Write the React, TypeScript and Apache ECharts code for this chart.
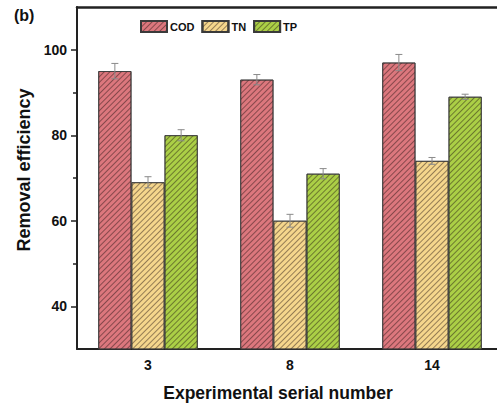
import React, { useEffect, useRef } from "react";
import * as echarts from "echarts";

const categories = ["3", "8", "14"];
const seriesNames = ["COD", "TN", "TP"];
const codValues = [95, 93, 97];
const codErrors = [1.8, 1.2, 1.9];
const tnValues = [69, 60, 74];
const tnErrors = [1.3, 1.5, 0.8];
const tpValues = [80, 71, 89];
const tpErrors = [1.3, 1.2, 0.6];
const yMajorTicks = [40, 60, 80, 100];
const yMinorTicks = [50, 70, 90];

const colors = ["#dc777d", "#f5d68c", "#abcf46"];
const FONT = "Liberation Sans, Arial, sans-serif";

export default function App() {
  const ref = useRef<HTMLDivElement>(null);
  useEffect(() => {
    if (!ref.current) return;
    const chart = echarts.init(ref.current, null, { renderer: "svg" });
    const values = [codValues, tnValues, tpValues];
    const errors = [codErrors, tnErrors, tpErrors];
    const decal = {
      symbol: "rect",
      symbolSize: 1,
      dashArrayX: [1, 0],
      dashArrayY: [1, 2.2],
      rotation: -Math.PI / 4,
      color: "rgba(30,15,15,0.45)",
    };
    const barSeries = seriesNames.map((name, i) => ({
      name,
      type: "bar",
      data: values[i],
      barGap: "0%",
      barCategoryGap: "30%",
      itemStyle: { color: colors[i], borderColor: "#3a3a3a", borderWidth: 0.8, decal },
      z: 2,
    }));
    const errSeries = seriesNames.map((name, i) => ({
      name: name + "_err",
      type: "custom",
      z: 5,
      data: categories.map((_, j) => [j, values[i][j], errors[i][j]]),
      renderItem: (params: any, api: any) => {
        const ci = api.value(0);
        const v = api.value(1);
        const e = api.value(2);
        const band = api.size([1, 0])[0];
        const barW = (band * 0.7) / 3;
        const cx = api.coord([ci, v])[0] + (i - 1) * barW;
        const top = api.coord([ci, v + e])[1];
        const bot = api.coord([ci, v - e])[1];
        const cap = 3.5;
        const style = { stroke: "#8a8a8a", lineWidth: 1 };
        return {
          type: "group",
          children: [
            { type: "line", shape: { x1: cx, y1: top, x2: cx, y2: bot }, style },
            { type: "line", shape: { x1: cx - cap, y1: top, x2: cx + cap, y2: top }, style },
            { type: "line", shape: { x1: cx - cap, y1: bot, x2: cx + cap, y2: bot }, style },
          ],
        };
      },
    }));
    chart.setOption({
      animation: false,
      backgroundColor: "#ffffff",
      textStyle: { fontFamily: FONT },
      title: {
        text: "(b)",
        left: 14,
        top: 7,
        padding: 0,
        textStyle: { fontFamily: FONT, fontSize: 16, fontWeight: "bold", color: "#111" },
      },
      legend: {
        data: seriesNames,
        icon: "rect",
        left: 140,
        top: 20,
        padding: 0,
        itemWidth: 26,
        itemHeight: 11,
        itemGap: 7,
        textStyle: { fontFamily: FONT, fontSize: 11, fontWeight: "bold", color: "#111", padding: [0, 0, 0, -2] },
      },
      grid: { left: 77, right: 2, top: 7, bottom: 59, containLabel: false },
      xAxis: [
        {
          type: "category",
          data: categories,
          position: "bottom",
          axisLine: { lineStyle: { color: "#222", width: 2 } },
          axisTick: { show: false },
          axisLabel: { fontFamily: FONT, fontSize: 14, fontWeight: "bold", color: "#111", margin: 9 },
          name: "Experimental serial number",
          nameLocation: "middle",
          nameGap: 35,
          nameTextStyle: { fontFamily: FONT, fontSize: 17.5, fontWeight: "bold", color: "#111", padding: [0, 24, 0, 0] },
        },
        {
          type: "category",
          data: categories,
          position: "top",
          axisLine: { lineStyle: { color: "#222", width: 2.5 } },
          axisTick: { show: false },
          axisLabel: { show: false },
        },
      ],
      yAxis: [
        {
          type: "value",
          min: 30,
          max: 110,
          interval: 10,
          axisLine: { show: true, lineStyle: { color: "#222", width: 2 } },
          axisTick: { show: true, length: 6, customValues: yMajorTicks, lineStyle: { color: "#222", width: 1.5 } },
          axisLabel: {
            customValues: yMajorTicks,
            fontFamily: FONT,
            fontSize: 14,
            fontWeight: "bold",
            color: "#111",
            margin: 10,
          },
          splitLine: { show: false },
          name: "Removal efficiency",
          nameLocation: "middle",
          nameGap: 42,
          nameTextStyle: { fontFamily: FONT, fontSize: 18, fontWeight: "bold", color: "#111", padding: [0, 0, 0, 16] },
        },
        {
          type: "value",
          min: 30,
          max: 110,
          interval: 10,
          position: "left",
          axisLine: { show: false },
          axisTick: { show: true, length: 4, customValues: yMinorTicks, lineStyle: { color: "#222", width: 1.5 } },
          axisLabel: { show: false },
          splitLine: { show: false },
        },
      ],
      series: [...barSeries, ...errSeries],
    });
    return () => chart.dispose();
  }, []);
  return (
    <div style={{ position: "fixed", left: 0, top: 0, width: 497, height: 408, overflow: "hidden", background: "#fff" }}>
      <div ref={ref} style={{ width: 505, height: 408 }} />
    </div>
  );
}
